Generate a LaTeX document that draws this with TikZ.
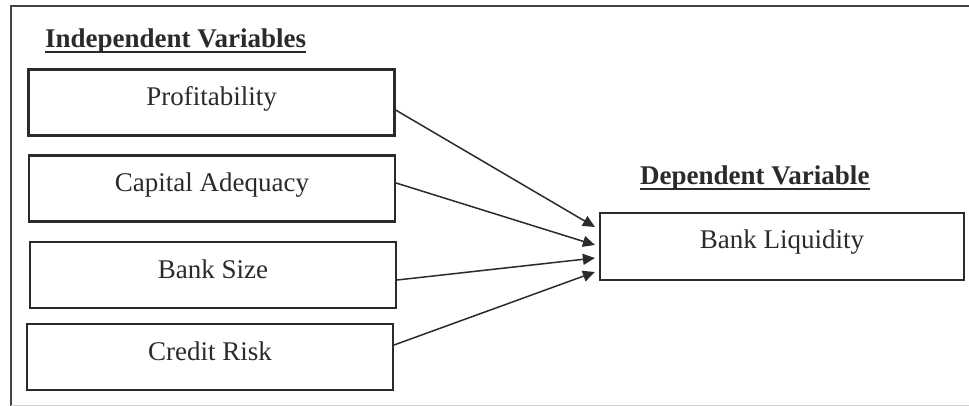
\documentclass[tikz,border=0pt]{standalone}
\usepackage{fontspec}
\setmainfont{Liberation Serif}
\usetikzlibrary{arrows.meta}
\definecolor{ink}{HTML}{2B2B2B}
\definecolor{frame}{HTML}{444444}
\begin{document}
\begin{tikzpicture}[x=1pt,y=-1pt,
  varbox/.style={draw=ink, line width=2.2pt, minimum width=366pt, minimum height=66pt,
    inner sep=0pt, text=ink, font=\fontsize{27}{32}\selectfont,
    text height=19pt, text depth=12pt},
  title/.style={anchor=base west, inner sep=0pt, text=ink,
    font=\fontsize{27}{32}\selectfont\bfseries},
  uline/.style={draw=ink, line width=2pt},
  link/.style={draw=ink, line width=1.5pt, -{Triangle[length=12pt,width=11pt]}}]
\useasboundingbox (0,0) rectangle (969,406);
\fill[white] (0,0) rectangle (969,406);
% outer frame
\draw[frame, line width=2.5pt] (11,406) -- (11,6) -- (969,6);
\draw[gray!35, line width=1pt] (11,405) -- (969,405);
% titles
\node[title] (ti) at (45,48) {Independent Variables};
\draw[uline] ([yshift=-4pt]ti.base west) -- ([yshift=-4pt]ti.base east);
\node[title] (td) at (640,185) {Dependent Variable};
\draw[uline] ([yshift=-4pt]td.base west) -- ([yshift=-4pt]td.base east);
% boxes
\node[varbox] (p1) at (211.5,102.5) {Profitability};
\node[varbox] (p2) at (212,188.5) {Capital Adequacy};
\node[varbox] (p3) at (213,275) {Bank Size};
\node[varbox] (p4) at (210,357) {Credit Risk};
\node[varbox, minimum width=364pt, minimum height=67pt, text height=17.5pt, text depth=14.5pt] (dv) at (782,246.5) {Bank Liquidity};
% connectors
\draw[link] ([yshift=-7.5pt]p1.east) -- ([xshift=-4pt,yshift=19.5pt]dv.west);
\draw[link] ([yshift=5.5pt]p2.east) -- ([xshift=-4pt,yshift=1.5pt]dv.west);
\draw[link] ([yshift=-5pt]p3.east) -- ([xshift=-4pt,yshift=-11.5pt]dv.west);
\draw[link] ([yshift=12pt]p4.east) -- ([xshift=-4pt,yshift=-25.5pt]dv.west);
\end{tikzpicture}
\end{document}
